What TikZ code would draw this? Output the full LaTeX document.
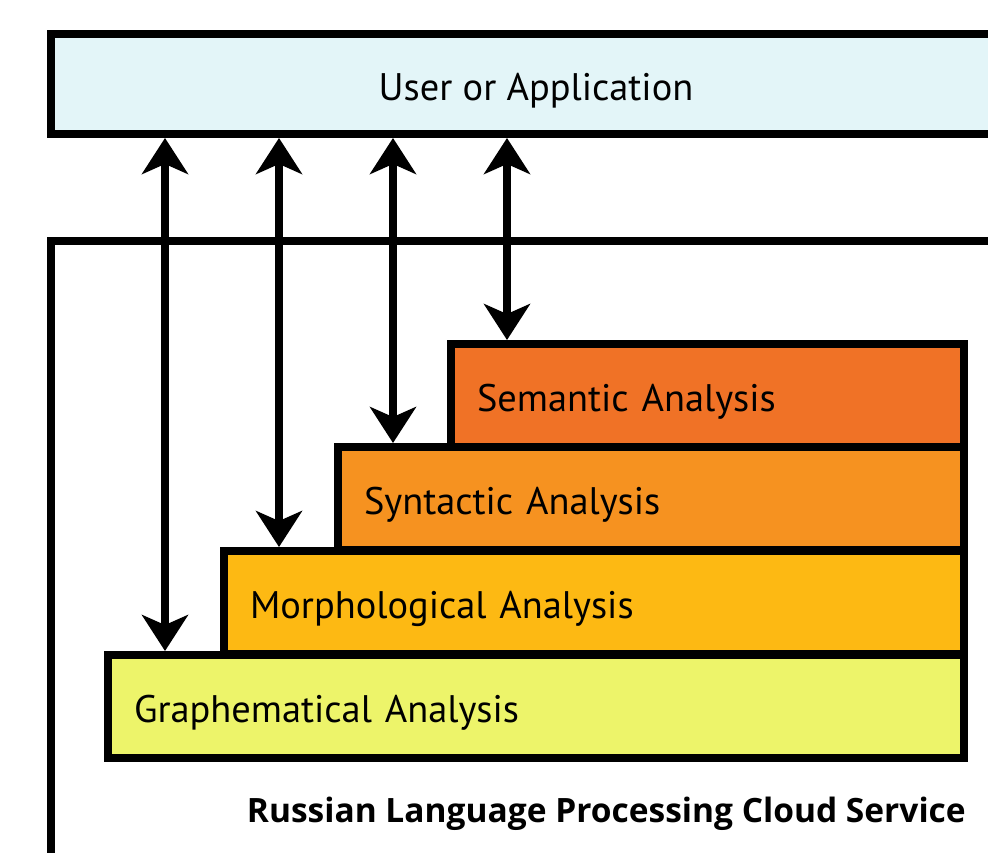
\documentclass[tikz,border=0pt]{standalone}
\usepackage{fontspec}
\setmainfont{PT Sans}
\newfontfamily\titlefont{Open Sans}
\usepackage{xcolor}
\usetikzlibrary{arrows.meta}

\definecolor{userfill}{RGB}{227,245,248}
\definecolor{semfill}{RGB}{240,114,38}
\definecolor{synfill}{RGB}{246,146,32}
\definecolor{morfill}{RGB}{253,185,19}
\definecolor{grafill}{RGB}{237,244,106}

\begin{document}
\begin{tikzpicture}[x=1pt,y=-1pt,
  box/.style={draw, line width=8pt, rectangle, inner sep=0pt,
    text height=32pt, text depth=0pt},
  layer/.style={box, anchor=north west, minimum width=#1, minimum height=103pt,
    inner xsep=26pt, text width=#1-52pt, align=left},
  both/.style={line width=8pt,
    {Stealth[length=36pt,width=46pt,inset=10pt]}-{Stealth[length=36pt,width=46pt,inset=10pt]}},
  font=\fontsize{38.4}{44}\selectfont]

\useasboundingbox (0,0) rectangle (988,852);
\clip (0,0) rectangle (988,852);

\node[box, fill=userfill, minimum width=970pt, minimum height=100pt] (user) at (536,84) {User or Application};

\draw[line width=8pt] (1030,241) -- (51,241) -- (51,900);

\node[layer=513pt, fill=semfill] (sem) at (447,340) {Semantic Analysis};
\node[layer=626pt, fill=synfill] (syn) at (334,443) {Syntactic Analysis};
\node[layer=740pt, fill=morfill] (mor) at (220,547) {Morphological Analysis};
\node[layer=856pt, fill=grafill] (gra) at (104,651) {Graphematical Analysis};

\coordinate (a1) at (165,0);
\coordinate (a2) at (279,0);
\coordinate (a3) at (393,0);
\coordinate (a4) at (507,0);

\draw[both] (user.south -| a1) -- (gra.north -| a1);
\draw[both] (user.south -| a2) -- (mor.north -| a2);
\draw[both] (user.south -| a3) -- (syn.north -| a3);
\draw[both] (user.south -| a4) -- (sem.north -| a4);

\node[font=\titlefont\bfseries\fontsize{33.5}{38}\selectfont, anchor=base east, inner sep=0pt] (title) at (966,822) {Russian Language Processing Cloud Service};

\end{tikzpicture}
\end{document}
